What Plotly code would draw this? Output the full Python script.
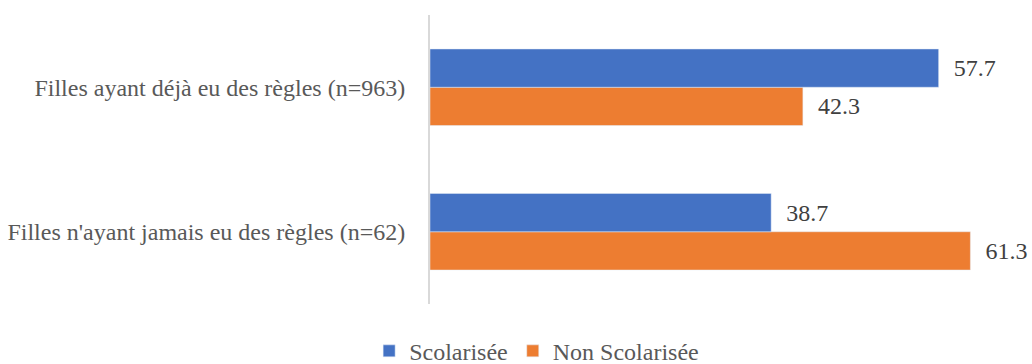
import plotly.graph_objects as go

categories = [
    "Filles n'ayant jamais eu des règles (n=62)",
    "Filles ayant déjà eu des règles (n=963)",
]
scolarisee = [38.7, 57.7]
non_scolarisee = [61.3, 42.3]

FONT = "Liberation Serif, Times New Roman, DejaVu Serif, serif"
SIZE = 24
NBSP = "\u00a0" * 2

fig = go.Figure()
# Plotly stacks horizontal groups bottom-up, so the second trace ends up below the first
fig.add_trace(go.Bar(
    y=categories, x=non_scolarisee, orientation="h", name="Non Scolarisée",
    marker=dict(color="#ED7D31"),
    text=[NBSP + f"{v:.1f}" for v in non_scolarisee], textposition="outside",
    textfont=dict(family=FONT, size=SIZE, color="#404040"), cliponaxis=False,
))
fig.add_trace(go.Bar(
    y=categories, x=scolarisee, orientation="h", name="Scolarisée",
    marker=dict(color="#4472C4"),
    text=[NBSP + f"{v:.1f}" for v in scolarisee], textposition="outside",
    textfont=dict(family=FONT, size=SIZE, color="#404040"), cliponaxis=False,
))

fig.update_layout(
    width=1032, height=364,
    margin=dict(l=430, r=29, t=15, b=60, autoexpand=False),
    paper_bgcolor="white", plot_bgcolor="white",
    barmode="group", bargap=0.47, bargroupgap=0,
    font=dict(family=FONT, size=SIZE, color="#595959"),
    showlegend=True,
    legend=dict(orientation="h", x=0.52, xanchor="center", xref="container",
                y=0.035, yanchor="middle", yref="container",
                traceorder="reversed", font=dict(family=FONT, size=SIZE, color="#595959")),
)
fig.update_xaxes(range=[0, 65], visible=False, showgrid=False, zeroline=False)
fig.update_yaxes(showline=True, linecolor="#D9D9D9", linewidth=2, ticks="",
                 showgrid=False, ticklabelstandoff=18,
                 tickfont=dict(family=FONT, size=SIZE, color="#595959"))

fig.write_html("out.html")
